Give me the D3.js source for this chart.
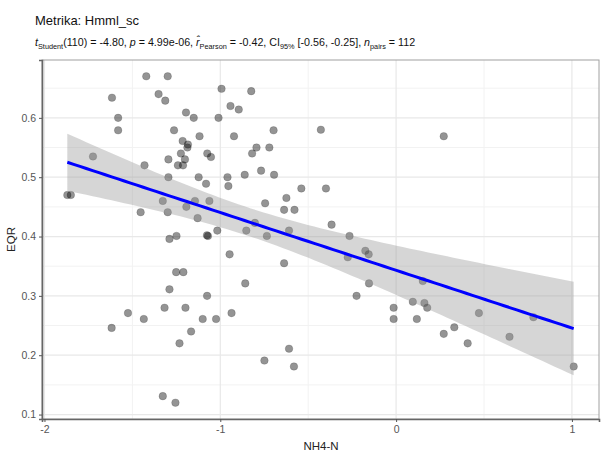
<!DOCTYPE html>
<html>
<head>
    <meta charset="utf-8">
    <script src="https://d3js.org/d3.v7.min.js"></script>
    <style>
        body { margin: 0; background: #fff; }
        text { font-family: "Liberation Sans", Arial, sans-serif; }
    </style>
</head>
<body>
    <svg width="601" height="455"></svg>
    <script>

        // data
        var nh4n = [-1.616, -1.581, -1.581, -1.724, -1.870, -1.850, -1.421, -1.299, -1.351, -1.313,
                    -1.195, -1.151, -1.263, -1.118, -1.214, -1.184, -1.187, -1.295, -1.224, -1.201,
                    -1.241, -1.212, -1.431, -1.295, -1.123, -1.081, -1.327, -1.453, -1.299, -1.193,
                    -1.144, -1.129, -1.062, -1.074, -1.053, -1.010, -0.993, -0.942, -0.895, -0.824,
                    -0.922, -0.959, -0.954, -0.861, -0.819, -0.794, -0.768, -0.721, -0.697, -0.694,
                    -0.745, -0.637, -0.624, -0.578, -0.539, -0.609, -0.852, -0.803, -0.735, -1.017,
                    -1.070, -1.076, -1.289, -1.249, -0.428, 0.271, -0.399, -0.367, -0.265, -0.175,
                    -0.156, -0.275, -0.154, -0.225, -0.014, -0.014, 0.095, 0.161, 0.177, 0.118,
                    0.152, 0.471, 0.331, 0.271, 0.407, 0.645, 0.781, 1.010, -1.251, -1.210,
                    -1.289, -1.317, -1.525, -1.435, -1.618, -1.232, -1.327, -1.255, -0.947, -0.637,
                    -0.858, -1.075, -1.198, -1.100, -1.024, -0.936, -1.166, -0.609, -0.749, -0.581];

        var eqr = [0.634, 0.600, 0.579, 0.535, 0.470, 0.470, 0.670, 0.670, 0.640, 0.629,
                   0.609, 0.600, 0.579, 0.569, 0.561, 0.555, 0.550, 0.530, 0.540, 0.530,
                   0.520, 0.520, 0.520, 0.500, 0.500, 0.489, 0.460, 0.441, 0.441, 0.450,
                   0.460, 0.431, 0.460, 0.540, 0.534, 0.600, 0.649, 0.620, 0.614, 0.645,
                   0.569, 0.500, 0.485, 0.504, 0.540, 0.550, 0.511, 0.550, 0.579, 0.504,
                   0.456, 0.445, 0.465, 0.445, 0.481, 0.410, 0.410, 0.423, 0.401, 0.410,
                   0.401, 0.402, 0.396, 0.401, 0.580, 0.569, 0.481, 0.420, 0.401, 0.376,
                   0.370, 0.365, 0.321, 0.300, 0.280, 0.261, 0.290, 0.288, 0.280, 0.261,
                   0.325, 0.271, 0.247, 0.236, 0.220, 0.231, 0.264, 0.181, 0.340, 0.340,
                   0.311, 0.280, 0.271, 0.261, 0.246, 0.220, 0.131, 0.120, 0.370, 0.355,
                   0.321, 0.300, 0.280, 0.261, 0.261, 0.271, 0.240, 0.211, 0.191, 0.181];

        var xTicks = [-2, -1, 0, 1];
        var xMinor = [-1.5, -0.5, 0.5];
        var yTicks = [0.1, 0.2, 0.3, 0.4, 0.5, 0.6];
        var yMinor = [0.15, 0.25, 0.35, 0.45, 0.55, 0.65];

        var title = "Metrika: Hmml_sc";
        // subtitle pieces: [text, style]  style: n normal, i italic, s subscript
        var subtitle = [["t", "i"], ["Student", "s"], ["(110) = -4.80, ", "n"], ["p", "i"],
                        [" = 4.99e-06, ", "n"], ["r\u0302", "i"], ["Pearson", "s"],
                        [" = -0.42, CI", "n"], ["95%", "s"], [" [-0.56, -0.25], ", "n"],
                        ["n", "i"], ["pairs", "s"], [" = 112", "n"]];

        var svg = d3.select("svg");
        var margin = {left: 42, right: 1, top: 60, bottom: 36};
        var W = 601, H = 455;

        var points = nh4n.map(function(d, i) { return {x: d, y: eqr[i]}; });

        // ggplot style 5% expansion
        var xe = d3.extent(nh4n), ye = d3.extent(eqr);
        var xp = (xe[1] - xe[0]) * 0.05, yp = (ye[1] - ye[0]) * 0.05;

        var x = d3.scaleLinear()
                  .domain([xe[0] - xp, xe[1] + xp])
                  .range([margin.left, W - margin.right - 1]);
        var y = d3.scaleLinear()
                  .domain([ye[0] - yp, ye[1] + yp])
                  .range([H - margin.bottom, margin.top]);

        // grid
        var grid = svg.append("g");
        grid.selectAll(".vmin").data(xMinor).enter().append("line")
            .attr("x1", d => x(d)).attr("x2", d => x(d))
            .attr("y1", margin.top).attr("y2", H - margin.bottom)
            .attr("stroke", "#f2f2f2").attr("stroke-width", 1);
        grid.selectAll(".hmin").data(yMinor).enter().append("line")
            .attr("y1", d => y(d)).attr("y2", d => y(d))
            .attr("x1", margin.left).attr("x2", W - margin.right - 1)
            .attr("stroke", "#f2f2f2").attr("stroke-width", 1);
        grid.selectAll(".vmaj").data(xTicks).enter().append("line")
            .attr("x1", d => x(d)).attr("x2", d => x(d))
            .attr("y1", margin.top).attr("y2", H - margin.bottom)
            .attr("stroke", "#e8e8e8").attr("stroke-width", 1.2);
        grid.selectAll(".hmaj").data(yTicks).enter().append("line")
            .attr("y1", d => y(d)).attr("y2", d => y(d))
            .attr("x1", margin.left).attr("x2", W - margin.right - 1)
            .attr("stroke", "#e8e8e8").attr("stroke-width", 1.2);

        // points
        svg.append("g").selectAll("circle")
           .data(points).enter().append("circle")
           .attr("cx", d => x(d.x))
           .attr("cy", d => y(d.y))
           .attr("r", 3.8)
           .attr("fill", "#000")
           .attr("fill-opacity", 0.42)
           .attr("stroke", "#000")
           .attr("stroke-opacity", 0.15)
           .attr("stroke-width", 1);

        // linear fit + 95% CI
        var n = points.length;
        var mx = d3.mean(nh4n), my = d3.mean(eqr);
        var sxx = d3.sum(nh4n, d => (d - mx) * (d - mx));
        var sxy = d3.sum(points, d => (d.x - mx) * (d.y - my));
        var b = sxy / sxx, a = my - b * mx;
        var s = Math.sqrt(d3.sum(points, d => Math.pow(d.y - (a + b * d.x), 2)) / (n - 2));
        var tq = 1.982;
        var band = d3.range(0, 81).map(function(i) {
            var xv = xe[0] + (xe[1] - xe[0]) * i / 80;
            var fit = a + b * xv;
            var se = s * Math.sqrt(1 / n + (xv - mx) * (xv - mx) / sxx);
            return {x: xv, fit: fit, lo: fit - tq * se, hi: fit + tq * se};
        });

        svg.append("path")
           .datum(band)
           .attr("d", d3.area().x(d => x(d.x)).y0(d => y(d.lo)).y1(d => y(d.hi)))
           .attr("fill", "#999")
           .attr("fill-opacity", 0.4);

        svg.append("path")
           .datum(band)
           .attr("d", d3.line().x(d => x(d.x)).y(d => y(d.fit)))
           .attr("fill", "none")
           .attr("stroke", "#0000ff")
           .attr("stroke-width", 3);

        // panel border
        svg.append("rect")
           .attr("x", margin.left).attr("y", margin.top)
           .attr("width", W - margin.right - 1 - margin.left)
           .attr("height", H - margin.bottom - margin.top)
           .attr("fill", "none").attr("stroke", "#a0a0a0").attr("stroke-width", 1);

        // axes (plain hyphen minus like the original)
        var xAxis = svg.append("g")
            .attr("transform", "translate(0," + (H - margin.bottom) + ")")
            .call(d3.axisBottom(x).tickValues(xTicks).tickFormat(d => String(d)).tickSize(3).tickPadding(4));
        var yAxis = svg.append("g")
            .attr("transform", "translate(" + margin.left + ",0)")
            .call(d3.axisLeft(y).tickValues(yTicks).tickFormat(d => d.toFixed(1)).tickSize(3).tickPadding(3));

        [xAxis, yAxis].forEach(function(g) {
            g.select(".domain").attr("stroke", "#666").attr("stroke-width", 1.6);
            g.selectAll(".tick line").attr("stroke", "#555");
            g.selectAll(".tick text")
             .attr("fill", "#555")
             .style("font-size", "10.5px")
             .style("font-family", "'Liberation Sans', Arial, sans-serif");
        });

        // titles
        svg.append("text")
           .attr("x", 35).attr("y", 25)
           .style("font-size", "13px")
           .attr("fill", "#111")
           .text(title);

        var sub = svg.append("text")
           .attr("x", 35).attr("y", 46)
           .style("font-size", "10.7px")
           .attr("fill", "#111");
        var shifted = false;
        subtitle.forEach(function(p) {
            var t = sub.append("tspan").text(p[0]);
            if (p[1] === "i") t.style("font-style", "italic");
            if (p[1] === "s") {
                t.style("font-size", "7.3px").attr("dy", 3);
                shifted = true;
            } else if (shifted) {
                t.attr("dy", -3);
                shifted = false;
            }
        });

        svg.append("text")
           .attr("x", (margin.left + W - margin.right) / 2)
           .attr("y", 450)
           .attr("text-anchor", "middle")
           .style("font-size", "11.5px")
           .attr("fill", "#222")
           .text("NH4-N");

        svg.append("text")
           .attr("transform", "translate(15," + ((margin.top + H - margin.bottom) / 2) + ") rotate(-90)")
           .attr("text-anchor", "middle")
           .style("font-size", "11.5px")
           .attr("fill", "#222")
           .text("EQR");

    </script>
</body>
</html>
